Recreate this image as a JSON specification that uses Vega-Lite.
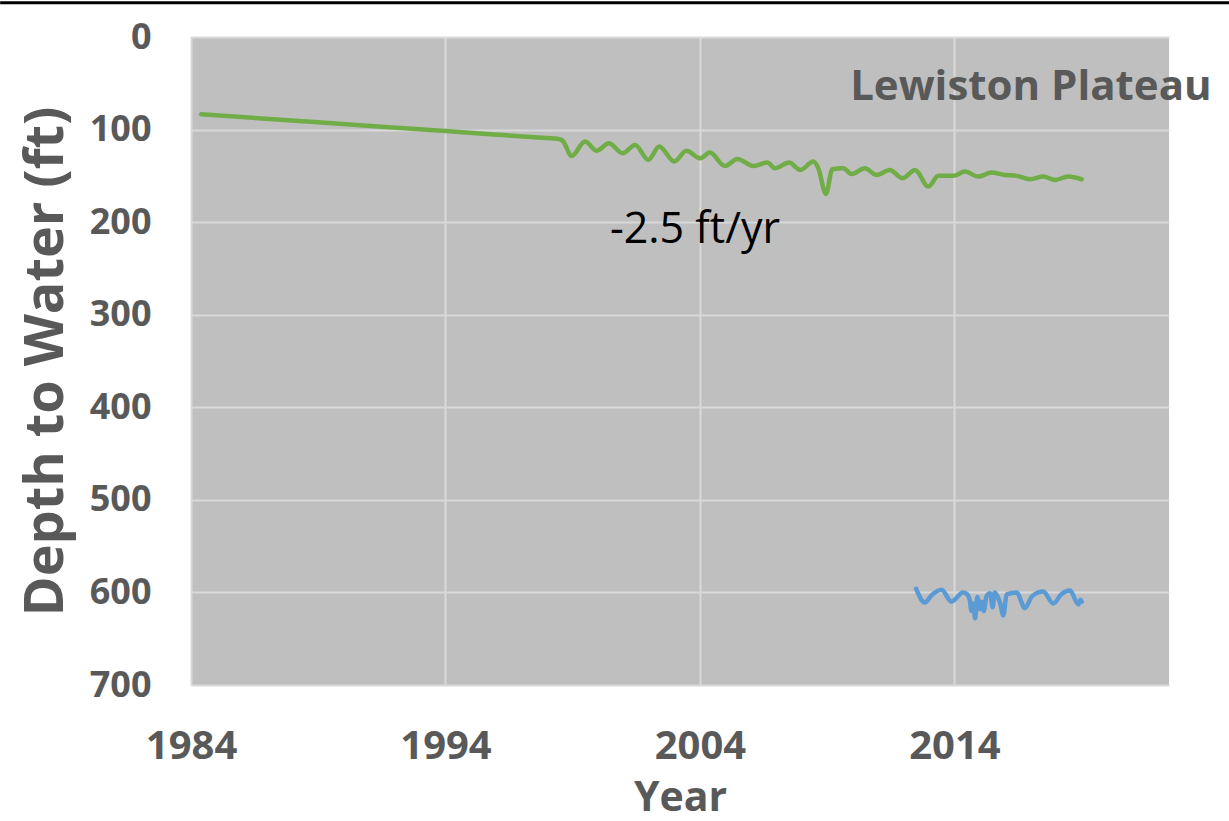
{
  "$schema": "https://vega.github.io/schema/vega-lite/v6.json",
  "width": 978,
  "height": 648,
  "autosize": {"type": "none"},
  "padding": {"left": 191, "top": 37, "right": 60, "bottom": 136},
  "background": "white",
  "config": {
    "view": {"fill": "#BFBFBF", "stroke": null},
    "font": "Open Sans"
  },
  "datasets": {
    "wells": [
      {"year": 1984.4, "depth": 83.5, "well": "Well 1"},
      {"year": 1989, "depth": 92.2, "well": "Well 1"},
      {"year": 1994, "depth": 101.6, "well": "Well 1"},
      {"year": 1997.5, "depth": 108.3, "well": "Well 1"},
      {"year": 1998.4, "depth": 110, "well": "Well 1"},
      {"year": 1998.6, "depth": 112, "well": "Well 1"},
      {"year": 1998.96, "depth": 128.5, "well": "Well 1"},
      {"year": 1999.48, "depth": 113, "well": "Well 1"},
      {"year": 1999.95, "depth": 122.8, "well": "Well 1"},
      {"year": 2000.42, "depth": 114.8, "well": "Well 1"},
      {"year": 2000.96, "depth": 125.6, "well": "Well 1"},
      {"year": 2001.45, "depth": 116.6, "well": "Well 1"},
      {"year": 2001.97, "depth": 132.8, "well": "Well 1"},
      {"year": 2002.4, "depth": 118.4, "well": "Well 1"},
      {"year": 2002.99, "depth": 134.6, "well": "Well 1"},
      {"year": 2003.47, "depth": 123, "well": "Well 1"},
      {"year": 2004.0, "depth": 131, "well": "Well 1"},
      {"year": 2004.39, "depth": 124.9, "well": "Well 1"},
      {"year": 2004.98, "depth": 139.3, "well": "Well 1"},
      {"year": 2005.47, "depth": 131.7, "well": "Well 1"},
      {"year": 2006.09, "depth": 139.3, "well": "Well 1"},
      {"year": 2006.65, "depth": 135.7, "well": "Well 1"},
      {"year": 2006.95, "depth": 141.8, "well": "Well 1"},
      {"year": 2007.5, "depth": 135.7, "well": "Well 1"},
      {"year": 2007.95, "depth": 143.6, "well": "Well 1"},
      {"year": 2008.45, "depth": 134.6, "well": "Well 1"},
      {"year": 2008.65, "depth": 141.8, "well": "Well 1"},
      {"year": 2008.95, "depth": 169.5, "well": "Well 1"},
      {"year": 2009.2, "depth": 142.9, "well": "Well 1"},
      {"year": 2009.63, "depth": 141.8, "well": "Well 1"},
      {"year": 2009.96, "depth": 148, "well": "Well 1"},
      {"year": 2010.48, "depth": 141.8, "well": "Well 1"},
      {"year": 2010.94, "depth": 149, "well": "Well 1"},
      {"year": 2011.46, "depth": 143.6, "well": "Well 1"},
      {"year": 2011.96, "depth": 152.6, "well": "Well 1"},
      {"year": 2012.45, "depth": 143.6, "well": "Well 1"},
      {"year": 2012.97, "depth": 161.6, "well": "Well 1"},
      {"year": 2013.37, "depth": 150, "well": "Well 1"},
      {"year": 2013.96, "depth": 150, "well": "Well 1"},
      {"year": 2014.41, "depth": 145.4, "well": "Well 1"},
      {"year": 2014.94, "depth": 150.8, "well": "Well 1"},
      {"year": 2015.45, "depth": 146.5, "well": "Well 1"},
      {"year": 2015.98, "depth": 149, "well": "Well 1"},
      {"year": 2016.44, "depth": 150, "well": "Well 1"},
      {"year": 2016.97, "depth": 153.7, "well": "Well 1"},
      {"year": 2017.49, "depth": 150.8, "well": "Well 1"},
      {"year": 2017.95, "depth": 154.4, "well": "Well 1"},
      {"year": 2018.47, "depth": 150.8, "well": "Well 1"},
      {"year": 2019.0, "depth": 153.7, "well": "Well 1"},
      {"year": 2012.49, "depth": 596, "well": "Well 2"},
      {"year": 2012.84, "depth": 611, "well": "Well 2"},
      {"year": 2013.10, "depth": 603, "well": "Well 2"},
      {"year": 2013.49, "depth": 597, "well": "Well 2"},
      {"year": 2013.88, "depth": 610, "well": "Well 2"},
      {"year": 2014.34, "depth": 600, "well": "Well 2"},
      {"year": 2014.50, "depth": 602, "well": "Well 2"},
      {"year": 2014.60, "depth": 608, "well": "Well 2"},
      {"year": 2014.67, "depth": 620, "well": "Well 2"},
      {"year": 2014.75, "depth": 612, "well": "Well 2"},
      {"year": 2014.81, "depth": 628, "well": "Well 2"},
      {"year": 2014.90, "depth": 605, "well": "Well 2"},
      {"year": 2015.00, "depth": 618, "well": "Well 2"},
      {"year": 2015.08, "depth": 610, "well": "Well 2"},
      {"year": 2015.15, "depth": 620, "well": "Well 2"},
      {"year": 2015.26, "depth": 604, "well": "Well 2"},
      {"year": 2015.40, "depth": 601, "well": "Well 2"},
      {"year": 2015.50, "depth": 616, "well": "Well 2"},
      {"year": 2015.58, "depth": 600, "well": "Well 2"},
      {"year": 2015.70, "depth": 605, "well": "Well 2"},
      {"year": 2015.80, "depth": 612, "well": "Well 2"},
      {"year": 2015.92, "depth": 625, "well": "Well 2"},
      {"year": 2016.05, "depth": 602, "well": "Well 2"},
      {"year": 2016.44, "depth": 600, "well": "Well 2"},
      {"year": 2016.77, "depth": 617, "well": "Well 2"},
      {"year": 2017.05, "depth": 604, "well": "Well 2"},
      {"year": 2017.49, "depth": 599, "well": "Well 2"},
      {"year": 2017.88, "depth": 612, "well": "Well 2"},
      {"year": 2018.20, "depth": 602, "well": "Well 2"},
      {"year": 2018.54, "depth": 598, "well": "Well 2"},
      {"year": 2018.87, "depth": 613, "well": "Well 2"},
      {"year": 2018.95, "depth": 608, "well": "Well 2"},
      {"year": 2019.00, "depth": 610, "well": "Well 2"}
    ],
    "labels": [
      {"year": 2009.9, "depth": 68, "label": "Lewiston Plateau", "kind": "title"},
      {"year": 2000.46, "depth": 222, "label": "-2.5 ft/yr", "kind": "rate"}
    ]
  },
  "layer": [
    {
      "data": {"name": "wells"},
      "mark": {"type": "line", "strokeWidth": 4.5, "interpolate": "monotone", "strokeCap": "round", "strokeJoin": "round"},
      "encoding": {
        "x": {
          "field": "year", "type": "quantitative",
          "scale": {"domain": [1984, 2022.43], "nice": false, "zero": false},
          "axis": {
            "values": [1984, 1994, 2004, 2014], "format": "d",
            "title": "Year", "titleFontSize": 41, "titleFontWeight": "bold", "titleColor": "#595959",
            "titlePadding": 12,
            "labelFontSize": 40, "labelFontWeight": "bold", "labelColor": "#595959",
            "labelPadding": 41, "labelFlush": false,
            "ticks": false, "domain": false,
            "grid": true, "gridColor": "#D9D9D9", "gridWidth": 2
          }
        },
        "y": {
          "field": "depth", "type": "quantitative",
          "scale": {"domain": [0, 700], "reverse": true, "nice": false},
          "axis": {
            "values": [0, 100, 200, 300, 400, 500, 600, 700],
            "title": "Depth to Water (ft)", "titleFontSize": 54, "titleFontWeight": "bold", "titleColor": "#595959",
            "titlePadding": 16,
            "labelFontSize": 36, "labelFontWeight": "bold", "labelColor": "#595959",
            "labelPadding": 40,
            "ticks": false, "domain": false,
            "grid": true, "gridColor": "#D9D9D9", "gridWidth": 2
          }
        },
        "color": {
          "field": "well", "type": "nominal",
          "scale": {"domain": ["Well 1", "Well 2"], "range": ["#70AD47", "#5B9BD5"]},
          "legend": null
        },
        "detail": {"field": "well"}
      }
    },
    {
      "data": {"name": "labels"},
      "transform": [{"filter": "datum.kind == 'title'"}],
      "mark": {"type": "text", "align": "left", "baseline": "alphabetic", "fontSize": 42, "fontWeight": "bold", "color": "#595959", "clip": false},
      "encoding": {
        "x": {"field": "year", "type": "quantitative"},
        "y": {"field": "depth", "type": "quantitative"},
        "text": {"field": "label"}
      }
    },
    {
      "data": {"name": "labels"},
      "transform": [{"filter": "datum.kind == 'rate'"}],
      "mark": {"type": "text", "align": "left", "baseline": "alphabetic", "fontSize": 43, "fontWeight": "normal", "color": "#000000"},
      "encoding": {
        "x": {"field": "year", "type": "quantitative"},
        "y": {"field": "depth", "type": "quantitative"},
        "text": {"field": "label"}
      }
    },
    {
      "data": {"values": [{}]},
      "mark": {"type": "rule", "color": "#000000", "strokeWidth": 3, "clip": false},
      "encoding": {
        "x": {"datum": 1976.5},
        "x2": {"datum": 2024.8},
        "y": {"datum": -37}
      }
    }
  ]
}
